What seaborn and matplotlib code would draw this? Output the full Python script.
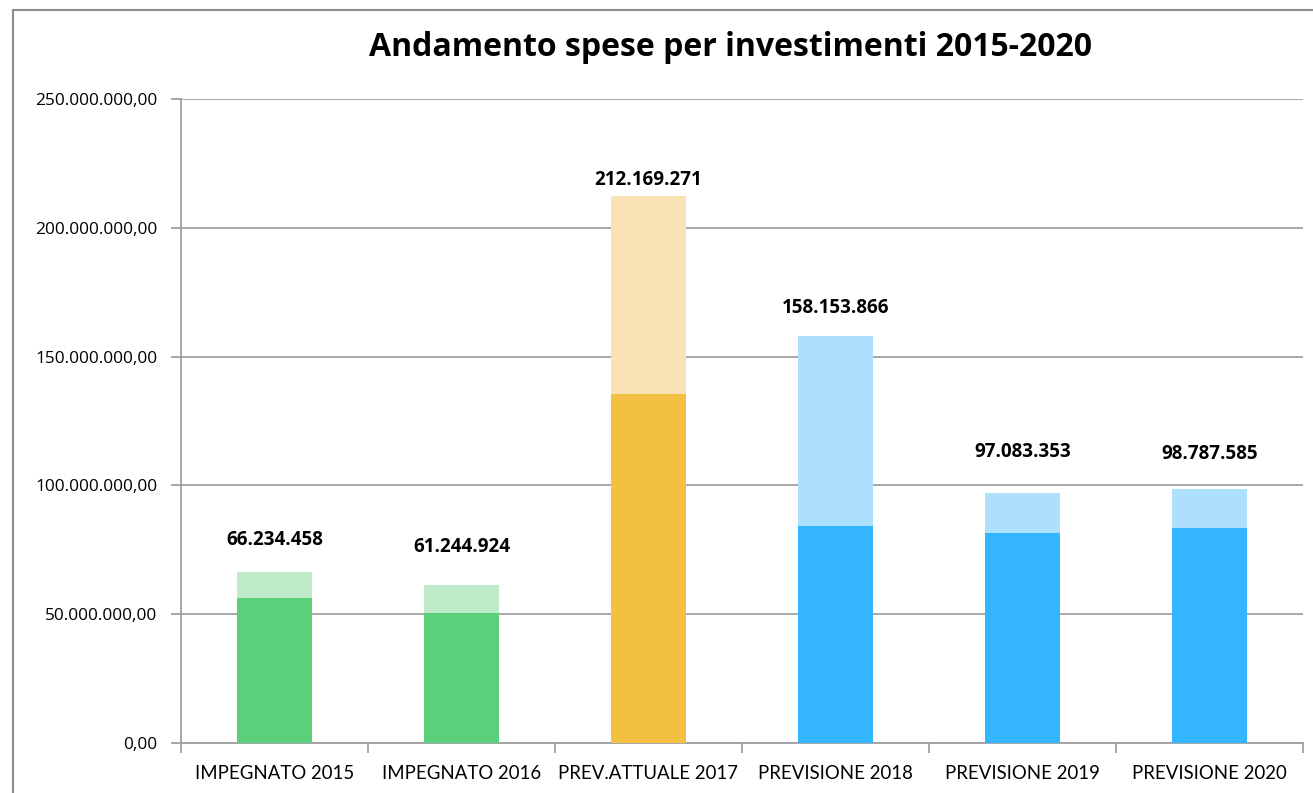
import matplotlib
matplotlib.use("Agg")
import matplotlib.pyplot as plt
import matplotlib.patches as mpatches
from matplotlib.ticker import FuncFormatter, FixedLocator
import seaborn as sns
import pandas as pd

# Data
categories = ["IMPEGNATO 2015", "IMPEGNATO 2016", "PREV.ATTUALE 2017",
              "PREVISIONE 2018", "PREVISIONE 2019", "PREVISIONE 2020"]
totals = [66234458, 61244924, 212169271, 158153866, 97083353, 98787585]
base_part = [56.4e6, 50.6e6, 135.5e6, 84.2e6, 81.6e6, 83.6e6]
yticks = [0, 50e6, 100e6, 150e6, 200e6, 250e6]

# Colours
dark_cols = ["#5BD07A", "#5BD07A", "#F4C042", "#33B5FF", "#33B5FF", "#33B5FF"]
light_cols = ["#BFEBCA", "#BFEBCA", "#F9E3B4", "#ADE0FC", "#ADE0FC", "#ADE0FC"]
# distance (points) from bar top to the centre of its value label
label_gap = [23, 27.4, 12, 20, 29.5, 25]

sns.set_theme(style="white")
plt.rcParams["font.family"] = ["Open Sans", "DejaVu Sans"]

df = pd.DataFrame({"cat": categories, "total": totals, "base": base_part})

fig = plt.figure(figsize=(13.13, 7.93), dpi=100)
W, H = 1313, 793
ax = fig.add_axes([181 / W, 1 - 743 / H, (1303 - 181) / W, (743 - 99) / H])

sns.barplot(data=df, x="cat", y="total", hue="cat", palette=light_cols,
            width=0.40, legend=False, ax=ax, saturation=1, zorder=3,
            linewidth=0, edgecolor="none")
sns.barplot(data=df, x="cat", y="base", hue="cat", palette=dark_cols,
            width=0.40, legend=False, ax=ax, saturation=1, zorder=4,
            linewidth=0, edgecolor="none")

ax.set_ylim(0, 250e6)
ax.set_xlim(-0.5, len(categories) - 0.5)
ax.set_xlabel("")
ax.set_ylabel("")

grid_col = "#A0A0A0"
ax.yaxis.set_major_locator(FixedLocator(yticks))
ax.yaxis.set_major_formatter(FuncFormatter(
    lambda v, p: f"{v:,.2f}".replace(",", "X").replace(".", ",").replace("X", ".")))
ax.grid(axis="y", color=grid_col, linewidth=1.3, zorder=0)
ax.set_axisbelow(True)

for s in ["top", "right"]:
    ax.spines[s].set_visible(False)
for s in ["left", "bottom"]:
    ax.spines[s].set_color(grid_col)
    ax.spines[s].set_linewidth(1.3)

ax.tick_params(axis="y", which="major", length=7, width=1.3, color=grid_col,
               pad=10, labelsize=12.4, labelcolor="#000000", left=True)
ax.set_xticks(range(len(categories)))
ax.set_xticklabels(categories, family=["Lato", "DejaVu Sans"])
ax.tick_params(axis="x", which="major", length=0, pad=16, labelsize=13.4,
               labelcolor="#000000")
ax.set_xticks([i - 0.5 for i in range(len(categories) + 1)], minor=True)
ax.tick_params(axis="x", which="minor", length=7, width=1.3, color=grid_col,
               bottom=True)

# Value labels above each bar
for i, (t, g) in enumerate(zip(totals, label_gap)):
    lbl = f"{t:,}".replace(",", ".")
    ax.annotate(lbl, (i, t), xytext=(0, g), textcoords="offset points",
                ha="center", va="center", fontsize=13.5, fontweight="bold",
                color="#000000", zorder=6)

fig.text(731 / W, 1 - 48 / H, "Andamento spese per investimenti 2015-2020",
         ha="center", va="center", fontsize=23, fontweight="bold",
         color="#000000")

# Chart-area frame
fig.patches.append(mpatches.Rectangle((13 / W, -0.1), 1.2, 1 - 10 / H + 0.1,
                                      transform=fig.transFigure, fill=False,
                                      edgecolor="#8C8C8C", linewidth=1.5))

fig.savefig("out.png", dpi=100)
